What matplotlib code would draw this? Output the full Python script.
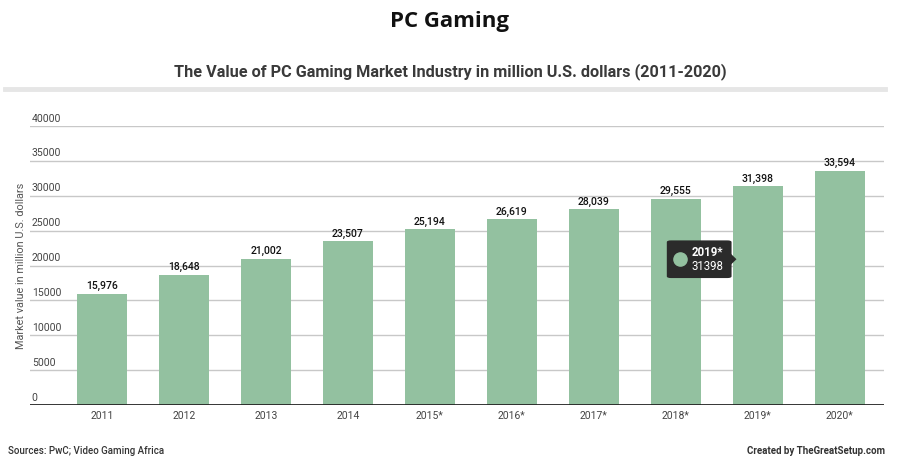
import matplotlib.pyplot as plt
import matplotlib.transforms as mtransforms
from matplotlib.patches import FancyBboxPatch, Polygon
import numpy as np

# -----------------------------
# Data
# -----------------------------
years = ["2011", "2012", "2013", "2014", "2015*", "2016*", "2017*", "2018*", "2019*", "2020*"]
values = [15976, 18648, 21002, 23507, 25194, 26619, 28039, 29555, 31398, 33594]
y_ticks = [0, 5000, 10000, 15000, 20000, 25000, 30000, 35000, 40000]
highlight = 8  # tooltip on 2019*

bar_color = "#93c1a0"
plt.rcParams['font.family'] = ['Roboto', 'DejaVu Sans']

# -----------------------------
# Figure
# -----------------------------
fig = plt.figure(figsize=(9, 4.72), dpi=100)
ax = fig.add_axes([30 / 900, 67 / 472, 854 / 900, 279 / 472])

x = np.arange(len(years))
ax.bar(x, values, width=0.61, color=bar_color, zorder=2)
ax.set_xlim(-0.88, 9.54)
ax.set_ylim(0, 40000)

# gridlines + tick labels above them
for t in y_ticks:
    if t == 0:
        ax.axhline(t, color="#222222", lw=2, zorder=3)
    else:
        ax.axhline(t, color="#c8c8c8", lw=1, zorder=1)
trans = mtransforms.blended_transform_factory(ax.transAxes, ax.transData)
for t in y_ticks:
    ax.text(0.002, t + 350, str(t), transform=trans, ha="left", va="bottom",
            fontsize=7.5, color="#444444")

# value labels
for xi, v in zip(x, values):
    ax.text(xi, v + 350, f"{v:,}", ha="center", va="bottom", fontsize=7.5,
            color="#111111", fontweight="medium")

ax.set_xticks(x)
ax.set_xticklabels(years, fontsize=7.5, color="#444444")
ax.tick_params(axis="x", length=0, pad=4)
ax.set_yticks([])
for s in ax.spines.values():
    s.set_visible(False)

ax.set_ylabel("Market value in million U.S. dollars", fontsize=7.8, color="#555555")
ax.yaxis.set_label_coords(-0.005, 0.5)

# tooltip on 2019*
box = FancyBboxPatch((highlight - 1.11, 18200), 0.79, 5400,
                     boxstyle="round,pad=0,rounding_size=0.05",
                     mutation_aspect=5000, facecolor="#2b2b2b", edgecolor="none", zorder=5)
ax.add_patch(box)
ax.add_patch(Polygon([[highlight - 0.33, 20100], [highlight - 0.33, 21700],
                      [highlight - 0.26, 20900]], closed=True,
                     facecolor="#2b2b2b", edgecolor="none", zorder=5))
ax.scatter([highlight - 0.95], [20900], s=90, color=bar_color, zorder=6)
ax.text(highlight - 0.81, 21800, years[highlight], fontsize=8.3, color="white",
        fontweight="bold", va="center", ha="left", zorder=6)
ax.text(highlight - 0.81, 19800, str(values[highlight]), fontsize=8.3, color="white",
        va="center", ha="left", zorder=6)

# -----------------------------
# Titles and footer
# -----------------------------
fig.text(0.5, 1 - 22 / 472, "PC Gaming", ha="center", va="center", fontsize=16,
         fontweight="bold", family=["Open Sans", "DejaVu Sans"], color="#111111")
fig.text(0.5, 1 - 72 / 472,
         "The Value of PC Gaming Market Industry in million U.S. dollars (2011-2020)",
         ha="center", va="center", fontsize=11.7, fontweight="bold", color="#3a3a3a")
fig.add_artist(plt.Line2D([5 / 900, 885 / 900], [1 - 89 / 472, 1 - 89 / 472],
                          color="#e6e6e6", lw=3.5))
fig.text(8 / 900, 1 - 451 / 472, "Sources: PwC; Video Gaming Africa", ha="left",
         va="center", fontsize=7, fontweight="medium", color="#333333")
fig.text(885 / 900, 1 - 451 / 472, "Created by TheGreatSetup.com", ha="right",
         va="center", fontsize=7, fontweight="bold", color="#333333")

fig.savefig("out.png", dpi=100)
